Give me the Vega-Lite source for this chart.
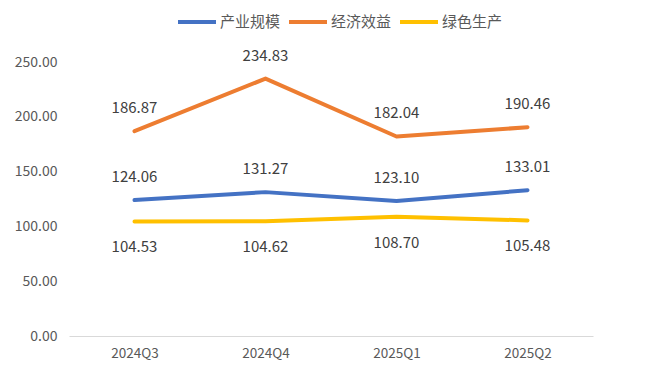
{
  "$schema": "https://vega.github.io/schema/vega-lite/v6.json",
  "width": 524,
  "height": 274,
  "autosize": {"type": "none"},
  "padding": {"left": 69, "top": 62, "right": 59, "bottom": 36},
  "background": "white",
  "config": {
    "font": "Noto Sans CJK SC",
    "view": {"stroke": null}
  },
  "data": {
    "values": [
      {"q": "2024Q3", "series": "产业规模", "value": 124.06},
      {"q": "2024Q4", "series": "产业规模", "value": 131.27},
      {"q": "2025Q1", "series": "产业规模", "value": 123.10},
      {"q": "2025Q2", "series": "产业规模", "value": 133.01},
      {"q": "2024Q3", "series": "经济效益", "value": 186.87},
      {"q": "2024Q4", "series": "经济效益", "value": 234.83},
      {"q": "2025Q1", "series": "经济效益", "value": 182.04},
      {"q": "2025Q2", "series": "经济效益", "value": 190.46},
      {"q": "2024Q3", "series": "绿色生产", "value": 104.53},
      {"q": "2024Q4", "series": "绿色生产", "value": 104.62},
      {"q": "2025Q1", "series": "绿色生产", "value": 108.70},
      {"q": "2025Q2", "series": "绿色生产", "value": 105.48}
    ]
  },
  "encoding": {
    "x": {
      "field": "q", "type": "ordinal",
      "sort": ["2024Q3", "2024Q4", "2025Q1", "2025Q2"],
      "axis": {
        "title": null, "labelAngle": 0, "ticks": false, "grid": false,
        "domainColor": "#d9d9d9", "domainWidth": 1,
        "labelColor": "#595959", "labelFontSize": 13.5, "labelPadding": 10
      }
    },
    "y": {
      "field": "value", "type": "quantitative",
      "scale": {"domain": [0, 250], "nice": false},
      "axis": {
        "title": null, "values": [0, 50, 100, 150, 200, 250], "format": ".2f",
        "domain": false, "ticks": false, "grid": false,
        "labelColor": "#595959", "labelFontSize": 14, "labelPadding": 12
      }
    }
  },
  "layer": [
    {
      "mark": {"type": "line", "strokeWidth": 4, "strokeCap": "round", "strokeJoin": "round"},
      "encoding": {
        "color": {
          "field": "series", "type": "nominal",
          "scale": {"domain": ["产业规模", "经济效益", "绿色生产"], "range": ["#4472C4", "#ED7D31", "#FFC000"]},
          "legend": {
            "title": null, "orient": "none", "direction": "horizontal",
            "legendX": 107, "legendY": -61,
            "symbolType": "stroke", "symbolSize": 1444, "symbolStrokeWidth": 4,
            "labelFontSize": 15, "labelColor": "#595959", "labelOffset": 2,
            "columnPadding": 0
          }
        }
      }
    },
    {
      "transform": [{"filter": "datum.series !== '绿色生产'"}],
      "mark": {"type": "text", "dy": -23, "fontSize": 15, "color": "#404040"},
      "encoding": {"text": {"field": "value", "type": "quantitative", "format": ".2f"}}
    },
    {
      "transform": [{"filter": "datum.series === '绿色生产'"}],
      "mark": {"type": "text", "dy": 26, "fontSize": 15, "color": "#404040"},
      "encoding": {"text": {"field": "value", "type": "quantitative", "format": ".2f"}}
    }
  ]
}
